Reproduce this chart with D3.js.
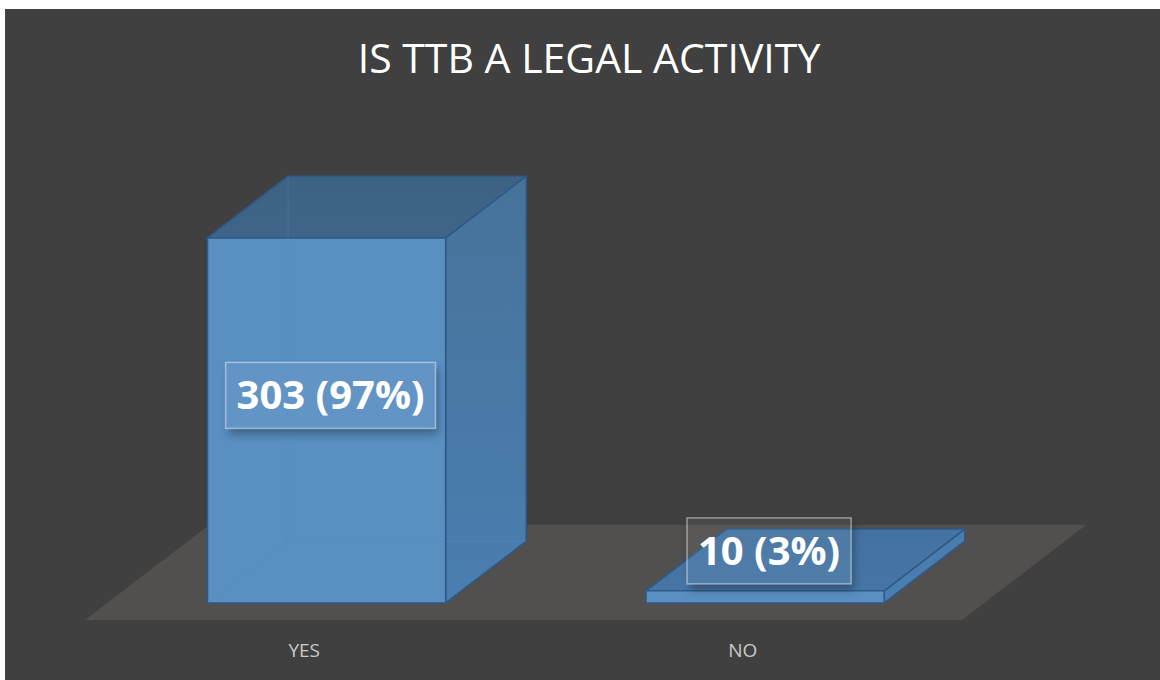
<!DOCTYPE html>
<html>
<head>
<meta charset="utf-8">
<script src="https://cdn.jsdelivr.net/npm/d3@7"></script>
<style>
  html, body { margin: 0; padding: 0; background: #ffffff; }
  svg { display: block; }
</style>
</head>
<body>
<svg id="chart" width="1160" height="680"></svg>
<script>
// ---- data ----
const title = "IS TTB A LEGAL ACTIVITY";
const categories = ["YES", "NO"];
const values = [303, 10];
const percents = [97, 3];

// ---- layout ----
const W = 1160, H = 680;
const svg = d3.select("#chart");
const defs = svg.append("defs");

svg.append("rect").attr("x", 5).attr("y", 9).attr("width", W - 5).attr("height", H - 9).attr("fill", "#404040");

const DX = 124, DY = 95;       // floor depth vector
const baseY = 620;
const d0 = 0.18, d1 = 0.83;    // bar depth range

const x = d3.scaleBand().domain(categories).range([85, 962])
  .paddingInner(0.457).paddingOuter(0.2285);
const h = d3.scaleLinear().domain([0, 350]).range([0, 421.6]);

const P = (px, d, z) => [px + DX * d, baseY - DY * d - z];
const poly = pts => "M" + pts.map(p => p.join(",")).join("L") + "Z";

// gradients for lighting
const gTop = defs.append("linearGradient").attr("id", "gTop")
  .attr("gradientUnits", "userSpaceOnUse").attr("x1", 0).attr("y1", 177).attr("x2", 0).attr("y2", 593);
gTop.append("stop").attr("offset", 0).attr("stop-color", "#3d6283");
gTop.append("stop").attr("offset", 1).attr("stop-color", "#4676a6");
const gSide = defs.append("linearGradient").attr("id", "gSide")
  .attr("gradientUnits", "userSpaceOnUse").attr("x1", 0).attr("y1", 177).attr("x2", 0).attr("y2", 600);
gSide.append("stop").attr("offset", 0).attr("stop-color", "#47739a");
gSide.append("stop").attr("offset", 1).attr("stop-color", "#4a7eb0");

const blur = defs.append("filter").attr("id", "blur").attr("x", "-20%").attr("y", "-30%").attr("width", "140%").attr("height", "160%");
blur.append("feGaussianBlur").attr("stdDeviation", 4);

// title
svg.append("text").attr("x", 589).attr("y", 73).attr("text-anchor", "middle")
  .attr("font-family", "'Open Sans', sans-serif").attr("font-size", 41)
  .attr("fill", "#ffffff").text(title);

// floor
svg.append("path")
  .attr("d", poly([P(85, 0, 0), P(962, 0, 0), P(962, 1, 0), P(85, 1, 0)]))
  .attr("fill", "#524f4f");

// bars
const stroke = "#2d5a88";
const bars = svg.append("g").selectAll("g").data(categories).join("g");
bars.each(function (c, i) {
  const g = d3.select(this);
  const x0 = x(c), x1 = x(c) + x.bandwidth();
  const z = h(values[i]);
  g.append("path").attr("d", poly([P(x1, d0, 0), P(x1, d1, 0), P(x1, d1, z), P(x1, d0, z)]))
    .attr("fill", "url(#gSide)").attr("stroke", stroke).attr("stroke-width", 1.5).attr("stroke-linejoin", "round");
  g.append("path").attr("d", poly([P(x0, d0, z), P(x1, d0, z), P(x1, d1, z), P(x0, d1, z)]))
    .attr("fill", "url(#gTop)").attr("stroke", stroke).attr("stroke-width", 1.5).attr("stroke-linejoin", "round");
  g.append("path").attr("d", poly([P(x0, d0, 0), P(x1, d0, 0), P(x1, d0, z), P(x0, d0, z)]))
    .attr("fill", "#5a8fc2").attr("stroke", stroke).attr("stroke-width", 1.5).attr("stroke-linejoin", "round");
  if (z > 30) {
    const hid = [[P(x0, d1, 0), P(x0, d1, z)], [P(x0, d0, 0), P(x0, d1, 0)], [P(x0, d1, 0), P(x1, d1, 0)]];
    hid.forEach(([a, b]) => g.append("line").attr("x1", a[0]).attr("y1", a[1]).attr("x2", b[0]).attr("y2", b[1])
      .attr("stroke", "#4f8cc8").attr("stroke-opacity", 0.3).attr("stroke-width", 1.2));
  }
});

// data labels
const labels = svg.append("g").selectAll("g").data(categories).join("g");
labels.each(function (c, i) {
  const g = d3.select(this);
  const cx = x(c) + x.bandwidth() / 2 + DX * d0 + 4;
  const base = baseY - DY * d0;
  const cy = Math.min(base - h(values[i] / 2) - 25, base - 52);
  const mask = defs.append("mask").attr("id", "m" + i).attr("maskUnits", "userSpaceOnUse")
    .attr("x", 0).attr("y", 0).attr("width", W).attr("height", H);
  mask.append("rect").attr("width", W).attr("height", H).attr("fill", "#fff");
  const mr = mask.append("rect").attr("fill", "#000");
  const sh = g.append("g").attr("mask", `url(#m${i})`).append("rect")
    .attr("fill", "#000").attr("opacity", 0.3).attr("filter", "url(#blur)");
  const box = g.append("rect").attr("fill", "#ffffff").attr("fill-opacity", 0.05)
    .attr("stroke", "#ffffff").attr("stroke-opacity", 0.45).attr("stroke-width", 1.5);
  const t = g.append("text").attr("x", cx).attr("y", cy + 14).attr("text-anchor", "middle")
    .attr("font-family", "'Open Sans', sans-serif").attr("font-weight", 700).attr("font-size", 40)
    .attr("fill", "#ffffff").text(`${values[i]} (${percents[i]}%)`);
  const tw = t.node().getComputedTextLength();
  const bw = tw + 22, bh = 66;
  box.attr("x", cx - bw / 2).attr("y", cy - bh / 2).attr("width", bw).attr("height", bh);
  mr.attr("x", cx - bw / 2).attr("y", cy - bh / 2).attr("width", bw).attr("height", bh);
  sh.attr("x", cx - bw / 2 + 3).attr("y", cy - bh / 2 + 6).attr("width", bw).attr("height", bh);
});

// category axis labels
svg.append("g").selectAll("text").data(categories).join("text")
  .attr("x", c => x(c) + x.bandwidth() / 2)
  .attr("y", 657)
  .attr("text-anchor", "middle")
  .attr("font-family", "'Open Sans', sans-serif").attr("font-size", 19)
  .attr("fill", "#c9c9c9").text(c => c);
</script>
</body>
</html>
